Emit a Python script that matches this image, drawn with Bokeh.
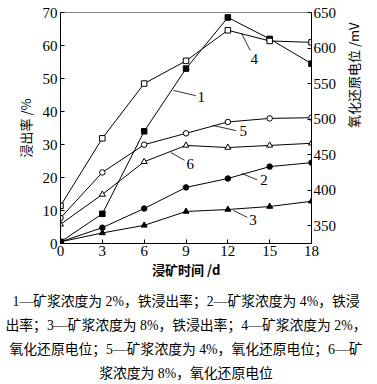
import math
from bokeh.plotting import figure
from bokeh.models import Range1d, LinearAxis, Title, FixedTicker
from bokeh.core.properties import value
from bokeh.embed import file_html
from bokeh.resources import INLINE

days = [0, 3, 6, 9, 12, 15, 18]
# leaching rate, %
s1 = [0.5, 9, 34, 53, 68.5, 62, 54.5]
s2 = [0.5, 4.8, 10.6, 17, 19.7, 23.3, 24.5]
s3 = [0.5, 3.2, 5.5, 9.7, 10.3, 11.2, 12.8]
# ORP, mV
s4 = [378, 473, 550, 582, 625, 610, 608]
s5 = [361, 425, 464, 480, 496, 501, 502]
s6 = [352, 394, 440, 463, 460, 463, 466]

x_ticks = [0, 3, 6, 9, 12, 15, 18]
left_ticks = [0, 10, 20, 30, 40, 50, 60, 70]
right_ticks = [350, 400, 450, 500, 550, 600, 650]

captions = [
    "1—矿浆浓度为 2%，铁浸出率；2—矿浆浓度为 4%，铁浸",
    "出率；3—矿浆浓度为 8%，铁浸出率；4—矿浆浓度为 2%，",
    "氧化还原电位；5—矿浆浓度为 4%，氧化还原电位；6—矿",
    "浆浓度为 8%，氧化还原电位",
]

SERIF = "Liberation Serif, Noto Sans CJK SC"
CJK = "Noto Sans CJK SC"

p = figure(width=377, height=384, output_backend="svg", toolbar_location=None,
           x_range=Range1d(0, 18), y_range=Range1d(0, 70),
           min_border_left=60, min_border_right=66, min_border_top=12,
           min_border_bottom=141)
p.extra_y_ranges = {"orp": Range1d(325, 650)}
p.grid.visible = False
p.outline_line_color = "#888888"
p.background_fill_color = "white"
p.border_fill_color = "white"

for ax in [p.xaxis[0], p.yaxis[0]]:
    ax.major_tick_in = 4
    ax.major_tick_out = 0
    ax.minor_tick_in = 0
    ax.minor_tick_out = 0
    ax.axis_line_color = "black"
    ax.major_label_text_font = SERIF
    ax.major_label_text_font_size = "15px"
    ax.major_label_text_color = "black"
    ax.axis_label_text_font = CJK
    ax.axis_label_text_font_size = "13px"
    ax.axis_label_text_font_style = "normal"
    ax.axis_label_text_color = "black"

p.xaxis[0].ticker = FixedTicker(ticks=x_ticks)
p.yaxis[0].ticker = FixedTicker(ticks=left_ticks)
p.xaxis[0].axis_label = "浸矿时间 /d"
p.xaxis[0].axis_label_text_font_style = "bold"
p.xaxis[0].axis_label_standoff = 1
p.yaxis[0].axis_label = "浸出率 /%"
p.yaxis[0].axis_label_standoff = 5
p.xaxis[0].major_label_standoff = 2
p.yaxis[0].major_label_standoff = 3

ra = LinearAxis(y_range_name="orp", ticker=FixedTicker(ticks=right_ticks),
                axis_label="氧化还原电位 /mV")
ra.major_tick_in = 4
ra.major_tick_out = 0
ra.minor_tick_in = 0
ra.minor_tick_out = 0
ra.axis_line_color = "black"
ra.major_label_text_font = SERIF
ra.major_label_text_font_size = "15px"
ra.major_label_text_color = "black"
ra.major_label_standoff = 2
ra.axis_label_text_font = CJK
ra.axis_label_text_font_size = "13px"
ra.axis_label_text_font_style = "normal"
ra.axis_label_text_color = "black"
ra.axis_label_standoff = 14
ra.axis_label_orientation = math.pi / 2
p.add_layout(ra, "right")

# series on left axis
p.line(days, s1, color="black", line_width=1)
p.scatter(days, s1, marker="square", size=5.5, fill_color="black", line_color="black")
p.line(days, s2, color="black", line_width=1)
p.scatter(days, s2, marker="circle", size=5.5, fill_color="black", line_color="black")
p.line(days, s3, color="black", line_width=1)
p.scatter(days, s3, marker="triangle", size=6, fill_color="black", line_color="black")
# series on right axis
p.line(days, s4, color="black", line_width=1, y_range_name="orp")
p.scatter(days, s4, marker="square", size=5.5, fill_color="white", line_color="black", y_range_name="orp")
p.line(days, s5, color="black", line_width=1, y_range_name="orp")
p.scatter(days, s5, marker="circle", size=5.5, fill_color="white", line_color="black", y_range_name="orp")
p.line(days, s6, color="black", line_width=1, y_range_name="orp")
p.scatter(days, s6, marker="triangle", size=6, fill_color="white", line_color="black", y_range_name="orp")

# series labels with leader lines (data coords on left axis)
lab_text = ["1", "2", "3", "4", "5", "6"]
lab_x = [10.1, 14.6, 13.8, 13.9, 13.1, 9.3]
lab_y = [44.5, 19.1, 7.0, 56.0, 34.0, 24.2]
lead_x0 = [8.1, 13.0, 12.4, 13.0, 10.9, 7.9]
lead_y0 = [46.4, 21.2, 10.0, 63.6, 35.8, 27.6]
lead_x1 = [9.7, 14.1, 13.4, 13.6, 12.6, 8.9]
lead_y1 = [44.8, 19.3, 7.9, 58.5, 34.2, 25.2]
p.segment(lead_x0, lead_y0, lead_x1, lead_y1, line_color="black", line_width=0.8)
p.text(lab_x, lab_y, text=lab_text, text_font=value("Liberation Serif"),
       text_font_size="15px", text_align="center", text_baseline="middle",
       text_color="black")

cap_standoff = [22, -8, 22, -8]
for t, so in zip(captions, cap_standoff):
    p.add_layout(Title(text=t, align="center", vertical_align="middle",
                       text_font=SERIF, text_font_size="13.8px",
                       text_font_style="normal", text_color="black",
                       standoff=so, offset=0), "below")

open("out.html", "w").write(file_html(p, INLINE))
